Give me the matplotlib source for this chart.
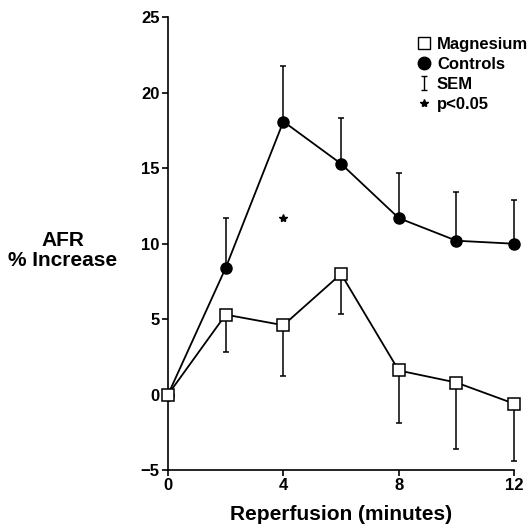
import matplotlib
matplotlib.use("Agg")
from matplotlib import pyplot as plt
from matplotlib.lines import Line2D
from matplotlib.path import Path

plt.rcParams['font.family'] = ['Liberation Sans', 'DejaVu Sans']
plt.rcParams['font.weight'] = 'bold'

# data
minutes = [0, 2, 4, 6, 8, 10, 12]
controls = [0, 8.4, 18.1, 15.3, 11.7, 10.2, 10.0]
controls_sem = [0, 3.3, 3.7, 3.0, 3.0, 3.2, 2.9]
magnesium = [0, 5.3, 4.6, 8.0, 1.6, 0.8, -0.6]
magnesium_sem = [0, 2.45, 3.35, 2.65, 3.5, 4.4, 3.8]
star_x = [4]
star_y = [11.7]
xticks = [0, 4, 8, 12]
yticks = [-5, 0, 5, 10, 15, 20, 25]

fig = plt.figure(figsize=(5.30, 5.27), dpi=100)
ax = fig.add_axes([0.317, 0.108, 0.653, 0.859])

# upward bars for controls, downward for magnesium
for ys, err in ((controls, [[0] * 7, controls_sem]),
                (magnesium, [magnesium_sem, [0] * 7])):
    eb = ax.errorbar(minutes, ys, yerr=err, fmt='none', ecolor='black',
                     elinewidth=1.1, capsize=2.5, capthick=1.1, zorder=2)
    for art in eb.lines[1] + eb.lines[2]:
        art.set_clip_on(False)

ax.plot(minutes, controls, color='black', lw=1.3, marker='o', ms=8,
        mfc='black', mec='black', zorder=3, clip_on=False)
ax.plot(minutes, magnesium, color='black', lw=1.3, marker='s', ms=8,
        mfc='white', mec='black', mew=1.1, zorder=4, clip_on=False)
ax.plot(star_x, star_y, ls='none', marker='*', ms=6, color='black')

ax.set_xlim(0, 12)
ax.set_ylim(-5, 25)
ax.set_xticks(xticks)
ax.set_yticks(yticks)
ax.spines['top'].set_visible(False)
ax.spines['right'].set_visible(False)
for s in ('left', 'bottom'):
    ax.spines[s].set_linewidth(1.2)
ax.tick_params(direction='out', length=4, width=1.2, labelsize=12, pad=2)

ax.set_xlabel('Reperfusion (minutes)', fontsize=15, fontweight='bold', labelpad=8)
fig.text(0.118, 0.525, 'AFR\n% Increase', ha='center', va='center',
         fontsize=15, fontweight='bold', linespacing=1.05)

# small I-beam like the SEM glyph
ibeam = Path([(-0.4, 1), (0.4, 1), (0, 1), (0, -1), (-0.4, -1), (0.4, -1)],
             [Path.MOVETO, Path.LINETO, Path.MOVETO, Path.LINETO,
              Path.MOVETO, Path.LINETO])
handles = [
    Line2D([], [], ls='none', marker='s', ms=8, mfc='white', mec='black', mew=1),
    Line2D([], [], ls='none', marker='o', ms=9, color='black'),
    Line2D([], [], ls='none', marker=ibeam, ms=10, mew=1, color='black'),
    Line2D([], [], ls='none', marker='*', ms=6, color='black'),
]
labels = ['Magnesium', 'Controls', 'SEM', 'p<0.05']
ax.legend(handles, labels, loc='upper left', bbox_to_anchor=(0.70, 0.972),
          frameon=False, handlelength=0.8, handletextpad=0.4,
          labelspacing=0.3, borderaxespad=0, prop={'size': 12, 'weight': 'bold'})

fig.savefig('out.png', dpi=100)
